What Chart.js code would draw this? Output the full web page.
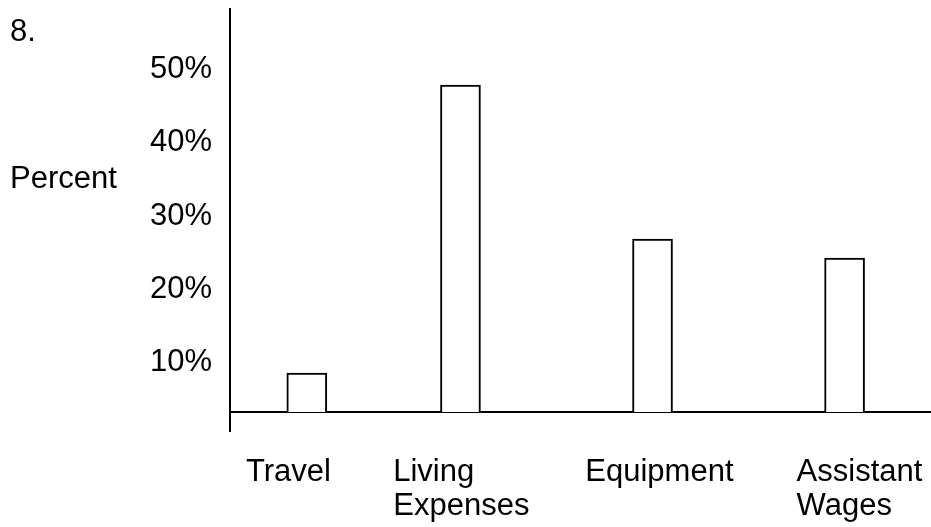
<!DOCTYPE html>
<html>
<head>
<meta charset="utf-8">
<script src="https://cdn.jsdelivr.net/npm/chart.js@4"></script>
<style>
  html, body { margin: 0; padding: 0; background: #fff; }
  #wrap { width: 931px; height: 527px; position: relative; }
</style>
</head>
<body>
<div id="wrap"><canvas id="c"></canvas></div>
<script>
// ---- data ----
const categories = [['Travel'], ['Living', 'Expenses'], ['Equipment'], ['Assistant', 'Wages']];
const values = [8.3, 47.6, 26.6, 24.0];
const yTickValues = [10, 20, 30, 40, 50];
const questionLabel = '8.';
const yAxisLabel = 'Percent';

// ---- layout (slot grid along the category axis) ----
const SLOTS = 220;
const barSlots = [24, 72, 132, 192];
const labelSlots = [5, 51, 111, 177];
const Y_MIN = 3, Y_MAX = 58;

const slotLabels = Array.from({ length: SLOTS }, () => '');
labelSlots.forEach((s, i) => { slotLabels[s] = categories[i]; });
const slotValues = Array(SLOTS).fill(null);
barSlots.forEach((s, i) => { slotValues[s] = values[i]; });

const FONT_Y = { family: "'Liberation Sans', Arial, sans-serif", size: 31, lineHeight: 1.14 };
const FONT_X = { family: "'Liberation Sans', Arial, sans-serif", size: 31, lineHeight: 1.11 };

const sideTexts = {
  id: 'sideTexts',
  afterDraw(chart) {
    const ctx = chart.ctx;
    ctx.save();
    ctx.font = "31px 'Liberation Sans', Arial, sans-serif";
    ctx.fillStyle = '#000';
    ctx.textAlign = 'left';
    ctx.textBaseline = 'alphabetic';
    ctx.fillText(questionLabel, 10, 41);
    ctx.fillText(yAxisLabel, 10, 188);
    ctx.restore();
  }
};

new Chart(document.getElementById('c'), {
  type: 'bar',
  data: {
    labels: slotLabels,
    datasets: [{
      data: slotValues,
      backgroundColor: '#ffffff',
      borderColor: '#000000',
      borderWidth: 2,
      barThickness: 40,
      base: Y_MIN
    }]
  },
  options: {
    responsive: true,
    maintainAspectRatio: false,
    animation: false,
    layout: { padding: { top: 9, left: 0, right: 0, bottom: 0 } },
    plugins: {
      legend: { display: false },
      tooltip: { enabled: false },
      title: { display: false }
    },
    scales: {
      x: {
        type: 'category',
        offset: false,
        grid: {
          display: true,
          drawOnChartArea: false,
          drawTicks: true,
          tickLength: 20,
          offset: false,
          lineWidth: 2,
          color: 'rgba(0,0,0,0)',
          tickWidth: 2,
          tickColor: (c) => (c.index === 0 ? '#000' : 'rgba(0,0,0,0)')
        },
        border: { display: true, color: '#000', width: 2 },
        ticks: {
          autoSkip: false,
          maxRotation: 0,
          minRotation: 0,
          align: 'start',
          labelOffset: 0,
          padding: 23,
          color: '#000',
          font: FONT_X
        },
        afterFit: (s) => { s.height = 115; s.paddingLeft = 0; s.paddingRight = 0; }
      },
      y: {
        min: Y_MIN,
        max: Y_MAX,
        grid: { display: true, drawOnChartArea: false, drawTicks: false },
        border: { display: true, color: '#000', width: 2 },
        afterBuildTicks: (s) => { s.ticks = yTickValues.map(v => ({ value: v })); },
        ticks: {
          padding: 18,
          labelOffset: 2,
          color: '#000',
          font: FONT_Y,
          callback: (v) => v + '%'
        },
        afterFit: (s) => { s.width = 230; s.paddingTop = 0; s.paddingBottom = 0; }
      }
    }
  },
  plugins: [sideTexts]
});
</script>
</body>
</html>
